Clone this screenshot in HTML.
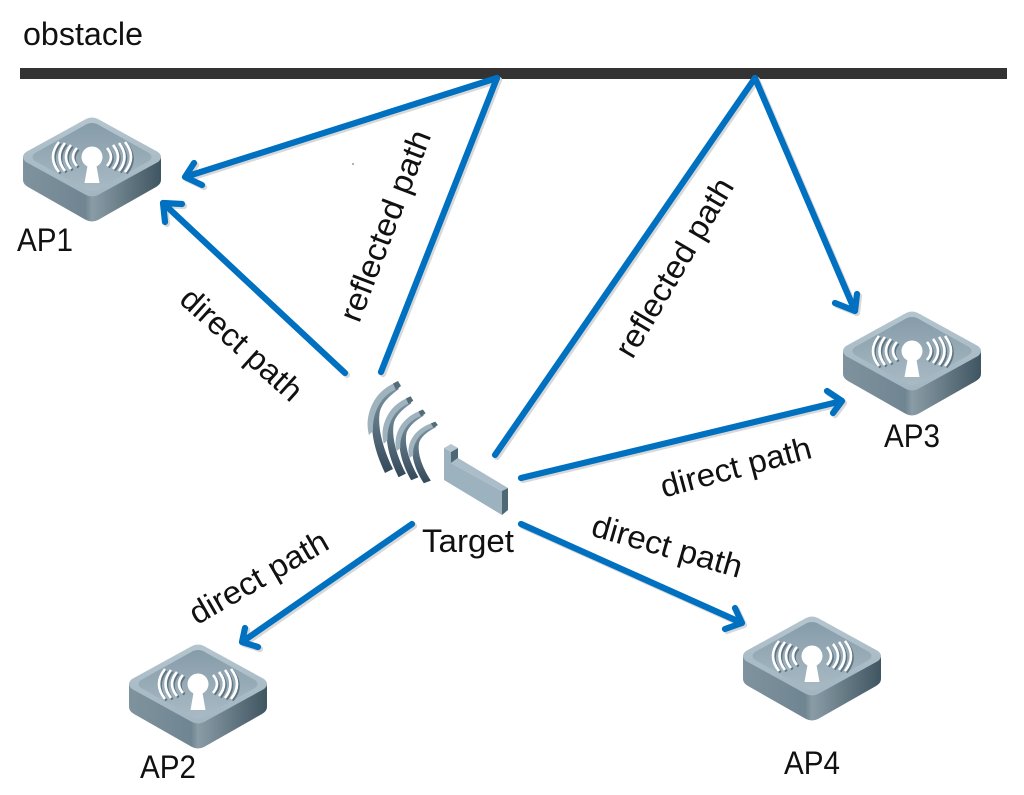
<!DOCTYPE html>
<html><head><meta charset="utf-8"><style>
html,body{margin:0;padding:0;background:#fff;width:1024px;height:795px;overflow:hidden}
svg{display:block}
text{font-family:"Liberation Sans",sans-serif;fill:#111;font-size:32px}
.l{fill:none;stroke:#0070c0;stroke-width:6.2;stroke-linecap:round;stroke-linejoin:round}
.s{fill:none;stroke:#d8d8d8;stroke-width:6.2;stroke-linecap:round;stroke-linejoin:round}
</style></head><body>
<svg width="1024" height="795" viewBox="0 0 1024 795" xmlns="http://www.w3.org/2000/svg">
<defs>
<linearGradient id="side" x1="0" x2="1" y1="0" y2="0"><stop offset="0" stop-color="#7f939e"/><stop offset=".45" stop-color="#6f8591"/><stop offset=".5" stop-color="#8a9ca6"/><stop offset="1" stop-color="#3f5561"/></linearGradient>
<linearGradient id="top" x1="0" x2="0" y1="0" y2="1"><stop offset="0" stop-color="#b4c5ce"/><stop offset="1" stop-color="#a2b5c0"/></linearGradient>
<linearGradient id="inner" x1="0" x2="0" y1="0" y2="1"><stop offset="0" stop-color="#869ca9"/><stop offset="1" stop-color="#a8bac4"/></linearGradient>
<linearGradient id="arc" x1="0" x2="0" y1="0" y2="1"><stop offset="0" stop-color="#7f97a5"/><stop offset="1" stop-color="#34495a"/></linearGradient>
<g id="ap">
<path d="M-69 39 L-69 62 Q-69 66 -64 69 L-6 102 Q0 105 6 102 L64 69 Q69 66 69 62 L69 39 Z" fill="url(#side)"/>
<path d="M-66 34 L-6 1 Q0 -2 6 1 L66 34 Q72 39 66 44 L6 77 Q0 80 -6 77 L-66 44 Q-72 39 -66 34Z" fill="url(#top)"/>
<path d="M-57 35 L-5 6 Q0 4 5 6 L57 35 Q62 39 57 43 L5 72 Q0 74 -5 72 L-57 43 Q-62 39 -57 35Z" fill="url(#inner)"/>
<g fill="none" stroke="#5f7582" stroke-width="2.6" transform="translate(1.5 1.5)">
<path d="M-15 30 Q-23 39 -15 48"/><path d="M-21 27 Q-31 39 -21 51"/><path d="M-27 25 Q-38 39 -27 53"/><path d="M-33 24 Q-45 39 -33 54"/>
<path d="M15 30 Q23 39 15 48"/><path d="M21 27 Q31 39 21 51"/><path d="M27 25 Q38 39 27 53"/><path d="M33 24 Q45 39 33 54"/>
</g>
<g fill="none" stroke="#fff" stroke-width="2.6">
<path d="M-15 30 Q-23 39 -15 48"/><path d="M-21 27 Q-31 39 -21 51"/><path d="M-27 25 Q-38 39 -27 53"/><path d="M-33 24 Q-45 39 -33 54"/>
<path d="M15 30 Q23 39 15 48"/><path d="M21 27 Q31 39 21 51"/><path d="M27 25 Q38 39 27 53"/><path d="M33 24 Q45 39 33 54"/>
</g>
<circle cx="0" cy="39" r="10.5" fill="#fff"/>
<path d="M-4 45 L4 45 L7.5 65 L-7.5 65Z" fill="#fff"/>
</g>
<g id="wave">
<path d="M28 0 C5 9 -5 42 18 90 L26 86 C15 64 10 42 13 28 C16 18 25 11 32 6Z" fill="url(#arc)"/>
<path d="M28 0 C5 9 -3 35 2 52 L6 48 C5 30 14 12 30 6Z" fill="#9fb3bf"/>
<path d="M26 0.5 L31 -2 L34 3 L29 7 Z" fill="#546b78"/>
</g>
<g id="paths">
<path d="M497 78 L185 177 M194 163 L185 177 L202 185"/>
<path d="M345 373 L163 203 M165 222 L163 203 L182 204"/>
<path d="M381 372 L497 78"/>
<path d="M495 455 L755 78"/>
<path d="M755 78 L855 311 M835 303 L855 311 L857 294"/>
<path d="M521 478 L842 401 M827 391 L842 401 L833 413"/>
<path d="M412 524 L242 642 M245 628 L242 642 L258 647"/>
<path d="M521 524 L742 623 M735 608 L742 623 L725 629"/>
</g>
</defs>

<rect x="20" y="68" width="987" height="11" fill="#333"/>
<text x="23" y="45" textLength="120" lengthAdjust="spacingAndGlyphs">obstacle</text>

<use href="#ap" x="92" y="118"/>
<use href="#ap" x="912" y="312"/>
<use href="#ap" x="198" y="645"/>
<use href="#ap" x="812" y="617"/>

<!-- target arcs -->
<use href="#wave" transform="translate(367 383)"/>
<use href="#wave" transform="translate(382 398) scale(.92 .88)"/>
<use href="#wave" transform="translate(395 411) scale(.9 .77)"/>
<use href="#wave" transform="translate(408 423) scale(.88 .67)"/>
<!-- base -->
<path d="M444 448 L451 452 L451 463 L502 491 L502 515 L444 480Z" fill="#9cb2bf"/>
<path d="M444 448 L451 444 L458 448 L451 452Z" fill="#b5c6d0"/>
<path d="M451 452 L458 448 L458 458 L451 463Z" fill="#4f6876"/>
<path d="M451 463 L458 458 L508 488 L502 491Z" fill="#abbdc8"/>
<path d="M502 491 L508 488 L508 510 L502 515Z" fill="#4f6876"/>

<use href="#paths" class="s" transform="translate(2 2)"/>
<use href="#paths" class="l"/>

<text x="17" y="251" textLength="56" lengthAdjust="spacingAndGlyphs">AP1</text>
<text x="140" y="778" textLength="56" lengthAdjust="spacingAndGlyphs">AP2</text>
<text x="884" y="447" textLength="56" lengthAdjust="spacingAndGlyphs">AP3</text>
<text x="784" y="774" textLength="56" lengthAdjust="spacingAndGlyphs">AP4</text>
<text x="422" y="552" textLength="92" lengthAdjust="spacingAndGlyphs">Target</text>

<text text-anchor="middle" transform="translate(386 226) rotate(-69) translate(0 10)" textLength="202" lengthAdjust="spacingAndGlyphs">reflected path</text>
<text text-anchor="middle" transform="translate(675 268) rotate(-59.5) translate(0 10)" textLength="202" lengthAdjust="spacingAndGlyphs">reflected path</text>
<text text-anchor="middle" transform="translate(241 345) rotate(42) translate(0 10)" textLength="152" lengthAdjust="spacingAndGlyphs">direct path</text>
<text text-anchor="middle" transform="translate(736 468) rotate(-15) translate(0 10)" textLength="155" lengthAdjust="spacingAndGlyphs">direct path</text>
<text text-anchor="middle" transform="translate(667 547) rotate(16) translate(0 10)" textLength="155" lengthAdjust="spacingAndGlyphs">direct path</text>
<text text-anchor="middle" transform="translate(259 578) rotate(-30) translate(0 10)" textLength="155" lengthAdjust="spacingAndGlyphs">direct path</text>
<circle cx="353" cy="164" r="1" fill="#999"/>
</svg>
</body></html>
